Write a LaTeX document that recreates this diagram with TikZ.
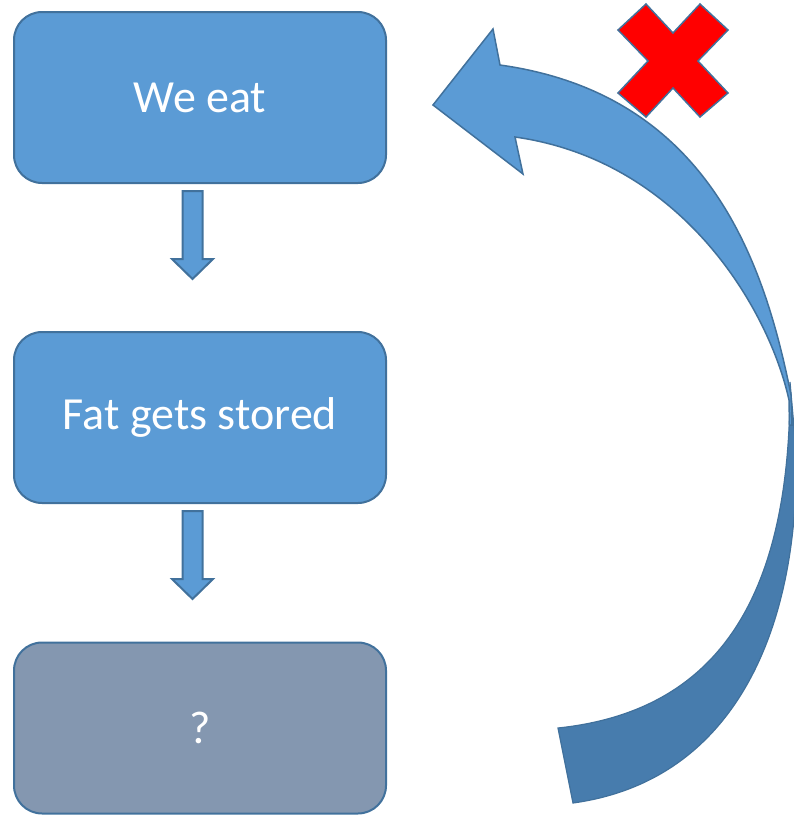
\documentclass[tikz,border=0pt]{standalone}
\usepackage{fontspec}
\setmainfont{Carlito}
\usetikzlibrary{calc}
\definecolor{boxblue}{HTML}{5B9BD5}
\definecolor{edgeblue}{HTML}{41719C}
\definecolor{boxgray}{HTML}{8497B0}
\definecolor{backblue}{HTML}{477CAD}
\definecolor{crossred}{HTML}{FF0000}
\tikzset{
  stepbox/.style={draw=edgeblue, line width=2pt, fill=boxblue, rounded corners=28pt,
    minimum width=372pt, minimum height=171pt, inner sep=0pt, text=white,
    font=\fontsize{46pt}{52pt}\selectfont},
  openbox/.style={stepbox, fill=boxgray},
  blockarrow/.style={draw=edgeblue, line width=2pt, fill=boxblue, line join=miter},
  frontband/.style={draw=edgeblue, line width=1.5pt, fill=boxblue, line join=miter},
  backband/.style={draw=edgeblue, line width=1.2pt, fill=backblue},
  crossmark/.style={draw=edgeblue, line width=1.5pt, fill=crossred}
}
\begin{document}
\begin{tikzpicture}[x=1pt, y=-1pt]
\useasboundingbox (0,0) rectangle (794,815);

% process boxes
\node[stepbox] (eat) at (200,97.5) {We eat};
\node[stepbox] (fat) at (200,417.5) {Fat gets stored};
\node[openbox] (unknown) at (200,728) {?};

% block arrows between the boxes
\foreach \a in {eat, fat} {
  \draw[blockarrow]
    ($(\a.south)+(-17.5,7)$) -- ($(\a.south)+(2.5,7)$) -- ($(\a.south)+(2.5,75)$)
    -- ($(\a.south)+(13,75)$) -- ($(\a.south)+(-7.5,95)$) -- ($(\a.south)+(-28,75)$)
    -- ($(\a.south)+(-17.5,75)$) -- cycle;
}

% feedback arrow: darker back band, then the lighter front band with its head
\coordinate (tailtop) at (558,728);
\coordinate (tailbot) at (573,803);
\coordinate (headbase1) at (500,65);
\coordinate (headbarb1) at (493,29);
\coordinate (headtip) at (433,105);
\coordinate (headbarb2) at (523,174);
\coordinate (headbase2) at (515,137);

\draw[backband] (790,382) .. controls (791,580) and (730,710) .. (tailtop)
  -- (tailbot) .. controls (740,780) and (800,620) .. (796,450) -- cycle;

\draw[frontband] (792,425) -- (791,395) .. controls (763.9,259.3) and (707,94) .. (headbase1)
  -- (headbarb1) -- (headtip) -- (headbarb2) -- (headbase2)
  .. controls (681.8,160.4) and (768.9,308.7) .. (789,400) -- (789.5,425) -- cycle;

% red cross
\draw[crossmark] (646,4) -- (673,33) -- (700,4) -- (728,30) -- (698,61) -- (728,93)
  -- (700,117) -- (673,88) -- (646,117) -- (618,93) -- (648,61) -- (618,30) -- cycle;
\end{tikzpicture}
\end{document}
